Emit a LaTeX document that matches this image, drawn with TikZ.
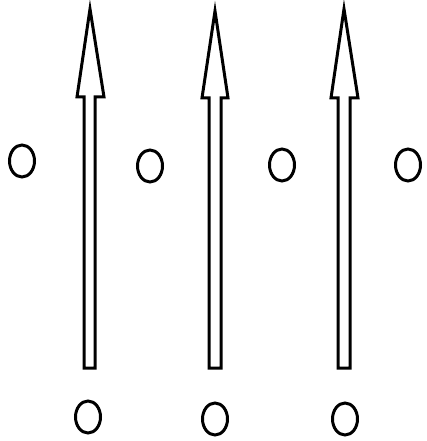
\documentclass[tikz,border=0pt]{standalone}
\begin{document}
\begin{tikzpicture}[x=1pt, y=-1pt, line width=3pt, line join=miter]
    \useasboundingbox (0,0) rectangle (427,441);

    \draw (84,368) -- (84,97) -- (77,97) -- (90,9) -- (104,97) -- (95,97) -- (95,368) -- cycle;
    \draw (209,368) -- (209,98) -- (202,98) -- (215,11) -- (228,98) -- (221,98) -- (221,368) -- cycle;
    \draw (338,368) -- (338,98) -- (331,98) -- (344,9) -- (358,98) -- (350,98) -- (350,368) -- cycle;

    \draw (22,161) ellipse (12.5 and 16);
    \draw (150,166) ellipse (12.5 and 16);
    \draw (282,165) ellipse (12.5 and 16);
    \draw (408,165) ellipse (12.5 and 16);

    \draw (88,417) ellipse (12.5 and 16);
    \draw (215,419) ellipse (12.5 and 16);
    \draw (345,419) ellipse (12.5 and 16);
\end{tikzpicture}
\end{document}
